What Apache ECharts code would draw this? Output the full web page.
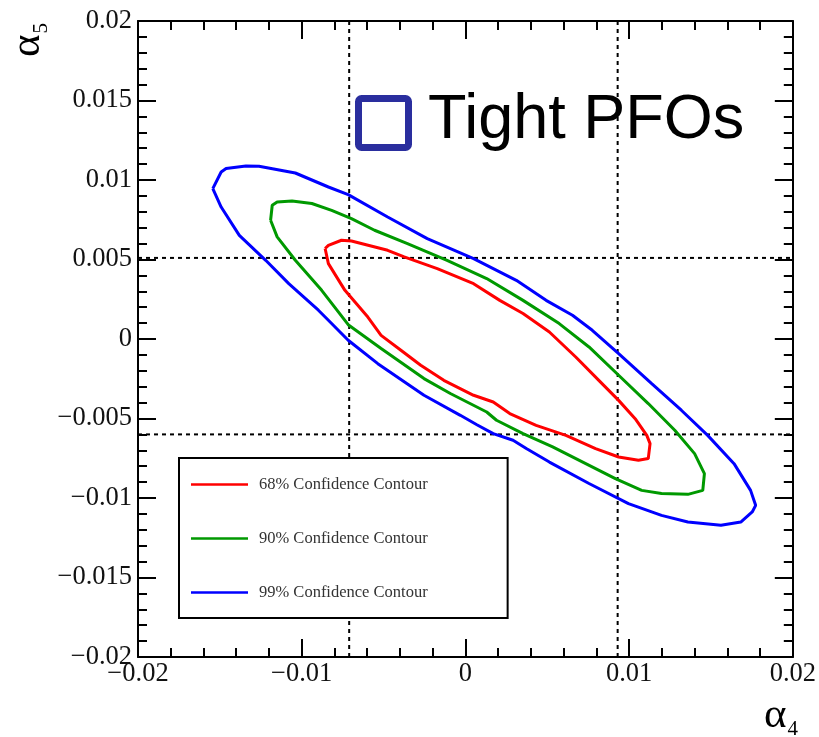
<!DOCTYPE html>
<html>
<head>
<meta charset="utf-8">
<script src="https://cdn.jsdelivr.net/npm/echarts@6/dist/echarts.min.js"></script>
<style>html,body{margin:0;padding:0;background:#fff;}#c{width:819px;height:737px;}</style>
</head>
<body>
<div id="c"></div>
<script>
// ---- data ----
const seriesNames = ['68% Confidence Contour', '90% Confidence Contour', '99% Confidence Contour'];
const seriesColors = ['#ff0000', '#009900', '#0000ff'];

const contour68 = [
  [-0.00857, 0.00569], [-0.00837, 0.00589], [-0.00757, 0.00621], [-0.00696, 0.00616],
  [-0.00475, 0.00558], [-0.00374, 0.00516], [-0.00172, 0.00443], [0.00050, 0.00348],
  [0.00210, 0.00243], [0.00352, 0.00160], [0.00513, 0.00044], [0.00674, -0.00113],
  [0.00815, -0.00260], [0.00936, -0.00386], [0.01037, -0.00501], [0.01108, -0.00606],
  [0.01128, -0.00658], [0.01117, -0.00752], [0.01057, -0.00763], [0.00936, -0.00742],
  [0.00795, -0.00689], [0.00614, -0.00606], [0.00432, -0.00543], [0.00271, -0.00469],
  [0.00170, -0.00396], [0.00050, -0.00354], [-0.00132, -0.00260], [-0.00273, -0.00165],
  [-0.00394, -0.00071], [-0.00515, 0.00023], [-0.00596, 0.00138], [-0.00736, 0.00306],
  [-0.00837, 0.00474], [-0.00857, 0.00569]
];

const contour90 = [
  [-0.01190, 0.00747], [-0.01180, 0.00841], [-0.01150, 0.00862], [-0.01059, 0.00868],
  [-0.00938, 0.00852], [-0.00817, 0.00809], [-0.00696, 0.00757], [-0.00555, 0.00684],
  [-0.00354, 0.00600], [-0.00112, 0.00495], [0.00130, 0.00380], [0.00352, 0.00243],
  [0.00573, 0.00097], [0.00755, -0.00050], [0.00936, -0.00228], [0.01117, -0.00406],
  [0.01279, -0.00574], [0.01400, -0.00721], [0.01460, -0.00847], [0.01450, -0.00952],
  [0.01359, -0.00977], [0.01198, -0.00972], [0.01077, -0.00952], [0.00916, -0.00878],
  [0.00735, -0.00784], [0.00533, -0.00679], [0.00352, -0.00595], [0.00190, -0.00511],
  [0.00130, -0.00459], [-0.00092, -0.00343], [-0.00253, -0.00249], [-0.00515, -0.00060],
  [-0.00716, 0.00090], [-0.00878, 0.00306], [-0.01039, 0.00495], [-0.01150, 0.00642],
  [-0.01190, 0.00747]
];

const contour99 = [
  [-0.01543, 0.00946], [-0.01492, 0.01050], [-0.01462, 0.01072], [-0.01341, 0.01088],
  [-0.01261, 0.01086], [-0.01039, 0.01044], [-0.00837, 0.00956], [-0.00716, 0.00908],
  [-0.00475, 0.00767], [-0.00233, 0.00631], [0.00050, 0.00506], [0.00311, 0.00369],
  [0.00493, 0.00243], [0.00654, 0.00149], [0.00775, 0.00055], [0.00936, -0.00092],
  [0.01138, -0.00281], [0.01319, -0.00448], [0.01480, -0.00606], [0.01641, -0.00784],
  [0.01742, -0.00952], [0.01773, -0.01046], [0.01752, -0.01088], [0.01682, -0.01151],
  [0.01561, -0.01172], [0.01359, -0.01151], [0.01198, -0.01109], [0.00996, -0.01035],
  [0.00755, -0.00909], [0.00513, -0.00774], [0.00372, -0.00689], [0.00291, -0.00637],
  [0.00170, -0.00595], [0.00070, -0.00539], [-0.00031, -0.00480], [-0.00253, -0.00354],
  [-0.00535, -0.00155], [-0.00716, -0.00008], [-0.00837, 0.00118], [-0.00898, 0.00181],
  [-0.01079, 0.00348], [-0.01220, 0.00495], [-0.01381, 0.00652], [-0.01492, 0.00830],
  [-0.01543, 0.00946]
];

const refLinesX = [-0.0071, 0.0093];
const refLinesY = [0.0051, -0.0060];

const axisMin = -0.02;
const axisMax = 0.02;
const xTickValues = [-0.02, -0.01, 0, 0.01, 0.02];
const xTickLabels = ['\u22120.02', '\u22120.01', '0', '0.01', '0.02'];
const yTickValues = [-0.02, -0.015, -0.01, -0.005, 0, 0.005, 0.01, 0.015, 0.02];
const yTickLabels = ['\u22120.02', '\u22120.015', '\u22120.01', '\u22120.005', '0', '0.005', '0.01', '0.015', '0.02'];

const annotationText = 'Tight PFOs';

// ---- chart ----
function lookup(values, labels) {
  return function (v) {
    for (let i = 0; i < values.length; i++) {
      if (Math.abs(values[i] - v) < 1e-9) return labels[i];
    }
    return '';
  };
}

const labelFont = { fontFamily: 'Liberation Serif', fontSize: 26.5, color: '#111' };
const axisLineStyle = { lineStyle: { color: '#000', width: 2 } };

function mkX(pos, showLabel) {
  return {
    type: 'value', position: pos, min: axisMin, max: axisMax, interval: 0.01,
    axisLine: Object.assign({ onZero: false }, axisLineStyle),
    axisTick: { inside: true, length: 18, lineStyle: { color: '#000', width: 2 } },
    minorTick: { show: true, splitNumber: 5, length: 9, lineStyle: { color: '#000', width: 2 } },
    splitLine: { show: false },
    axisLabel: showLabel ? Object.assign({ margin: 4, formatter: lookup(xTickValues, xTickLabels), showMinLabel: true, showMaxLabel: true }, labelFont) : { show: false }
  };
}
function mkY(pos, showLabel) {
  return {
    type: 'value', position: pos, min: axisMin, max: axisMax, interval: 0.005,
    axisLine: Object.assign({ onZero: false }, axisLineStyle),
    axisTick: { inside: true, length: 18, lineStyle: { color: '#000', width: 2 } },
    minorTick: { show: true, splitNumber: 5, length: 9, lineStyle: { color: '#000', width: 2 } },
    splitLine: { show: false },
    axisLabel: showLabel ? Object.assign({ margin: 6, formatter: lookup(yTickValues, yTickLabels), showMinLabel: true, showMaxLabel: true }, labelFont) : { show: false }
  };
}

const dashStyle = { color: '#000', width: 2, type: [4, 4] };
const series = [];
refLinesX.forEach((v, i) => series.push({
  name: 'refx' + i, type: 'line', data: [[v, axisMin], [v, axisMax]],
  showSymbol: false, symbol: 'none', z: 2, silent: true, lineStyle: dashStyle
}));
refLinesY.forEach((v, i) => series.push({
  name: 'refy' + i, type: 'line', data: [[axisMin, v], [axisMax, v]],
  showSymbol: false, symbol: 'none', z: 2, silent: true, lineStyle: dashStyle
}));
[contour68, contour90, contour99].forEach((d, i) => series.push({
  name: seriesNames[i], type: 'line', data: d, showSymbol: false, symbol: 'none',
  smooth: false, z: 3,
  lineStyle: { color: seriesColors[i], width: 3 },
  itemStyle: { color: seriesColors[i] }
}));

const axisNameRich = {
  a: { fontFamily: 'Liberation Serif', fontSize: 43, fill: '#000', padding: [0, 0, 2, 0] },
  s: { fontFamily: 'Liberation Serif', fontSize: 21, fill: '#000', verticalAlign: 'bottom', padding: [0, 0, 0, 1] }
};

const chart = echarts.init(document.getElementById('c'), null, { renderer: 'canvas' });
chart.setOption({
  animation: false,
  backgroundColor: '#fff',
  grid: { left: 138, right: 20, top: 21, bottom: 80, containLabel: false },
  xAxis: [mkX('bottom', true), mkX('top', false)],
  yAxis: [mkY('left', true), mkY('right', false)],
  legend: {
    data: seriesNames, orient: 'vertical', left: 179, top: 458,
    backgroundColor: '#fff', borderColor: '#000', borderWidth: 2, borderRadius: 0,
    padding: [18, 80, 17, 12], itemGap: 37,
    icon: 'rect', itemWidth: 57, itemHeight: 2.5,
    textStyle: { fontFamily: 'Liberation Serif', fontSize: 16.5, color: '#333', padding: [0, 0, 0, 6] }
  },
  graphic: [
    { type: 'rect', left: 355, top: 95, shape: { width: 50, height: 49, r: 3 },
      style: { fill: 'none', stroke: '#2a2e9e', lineWidth: 7 } },
    { type: 'text', x: 428, y: 121,
      style: { text: annotationText, font: '63px "Liberation Sans"', fill: '#000', textAlign: 'left', textVerticalAlign: 'middle' } },
    { type: 'text', x: 29, y: 40, rotation: Math.PI / 2,
      style: { text: '{a|\u03b1}{s|5}', textAlign: 'center', textVerticalAlign: 'middle', rich: axisNameRich } },
    { type: 'text', x: 781, y: 717,
      style: { text: '{a|\u03b1}{s|4}', textAlign: 'center', textVerticalAlign: 'middle', rich: axisNameRich } }
  ],
  series: series
});
</script>
</body>
</html>
